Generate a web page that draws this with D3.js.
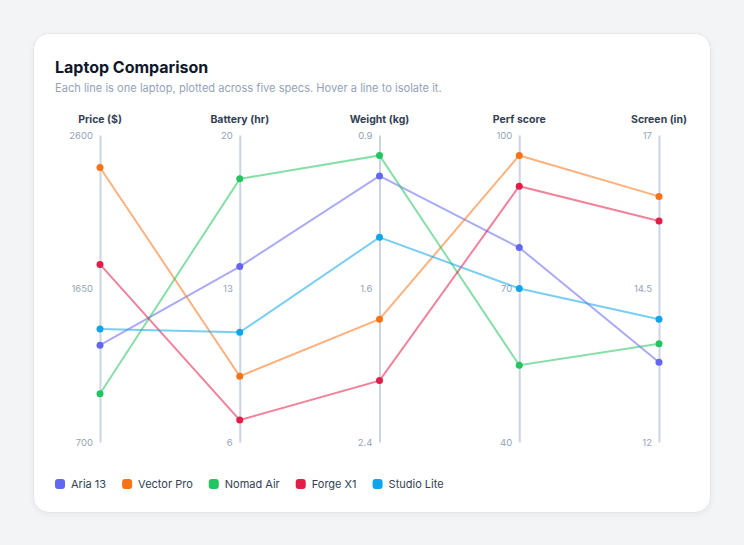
<!DOCTYPE html>
<html><head><meta charset="utf-8">
<script src="https://cdn.jsdelivr.net/npm/d3@7"></script>
<style>
html,body{margin:0;padding:0;}
body{width:744px;height:545px;background:#f3f4f6;font-family:Inter,"Noto Sans",sans-serif;position:relative;overflow:hidden;}
#card{position:absolute;left:33px;top:33px;width:676px;height:478px;background:#fff;border:1px solid #e5e7eb;border-radius:16px;box-shadow:0 2px 6px rgba(15,23,42,0.05);}
svg{position:absolute;left:0;top:0;}
</style></head>
<body>
<div id="card"></div>
<svg id="chart" width="744" height="545"></svg>
<script>
const dimensions = ["Price ($)", "Battery (hr)", "Weight (kg)", "Perf score", "Screen (in)"];
const laptops = ["Aria 13", "Vector Pro", "Nomad Air", "Forge X1", "Studio Lite"];
const colors = ["#6366f1", "#f97316", "#22c55e", "#e11d48", "#0ea5e9"];
const price   = [1299, 2399, 999, 1799, 1399];
const battery = [14, 9, 18, 7, 11];
const weight  = [1.1, 1.8, 1.0, 2.1, 1.4];
const perf    = [78, 96, 55, 90, 70];
const screen  = [13.3, 16.0, 13.6, 15.6, 14.0];
const domains = [[700, 2600], [6, 20], [2.4, 0.9], [40, 100], [12, 17]];
const tickValues = [[700, 1650, 2600], [6, 13, 20], [2.4, 1.65, 0.9], [40, 70, 100], [12, 14.5, 17]];
const tickLabels = [["700", "1650", "2600"], ["6", "13", "20"], ["2.4", "1.6", "0.9"], ["40", "70", "100"], ["12", "14.5", "17"]];

const series = [price, battery, weight, perf, screen];
const data = laptops.map((name, i) => ({name, color: colors[i], values: series.map(s => s[i])}));

const svg = d3.select("#chart");
const x = d3.scalePoint().domain(dimensions).range([100, 659]);
const ys = domains.map(d => d3.scaleLinear().domain(d).range([442, 135]));

svg.append("text").attr("x", 55).attr("y", 73).text("Laptop Comparison")
  .attr("font-size", 16).attr("font-weight", 700).attr("fill", "#0f172a");
svg.append("text").attr("x", 55).attr("y", 92).text("Each line is one laptop, plotted across five specs. Hover a line to isolate it.")
  .attr("font-size", 11.1).attr("fill", "#94a3b8");

// axes
dimensions.forEach((dim, i) => {
  const g = svg.append("g").attr("transform", `translate(${x(dim)},0)`);
  const ax = d3.axisLeft(ys[i]).tickValues(tickValues[i])
    .tickFormat((v, k) => tickLabels[i][k]).tickSize(0).tickPadding(7);
  g.call(ax);
  g.select(".domain").attr("stroke", "#cbd5e1").attr("stroke-width", 2);
  g.selectAll(".tick text").attr("fill", "#94a3b8").attr("font-size", 9.5)
    .attr("font-family", "Inter, 'Noto Sans', sans-serif");
  g.append("text").attr("x", 0).attr("y", 123).attr("text-anchor", "middle")
    .text(dim).attr("font-size", 10.5).attr("font-weight", 700).attr("fill", "#334155")
    .attr("font-family", "Inter, 'Noto Sans', sans-serif");
});

const line = d3.line().x((d, i) => x(dimensions[i])).y((d, i) => ys[i](d));
const lg = svg.append("g");
data.forEach(d => {
  lg.append("path").attr("d", line(d.values)).attr("fill", "none")
    .attr("stroke", d.color).attr("stroke-width", 2).attr("stroke-opacity", 0.55);
});
data.forEach(d => {
  lg.selectAll(null).data(d.values).join("circle")
    .attr("cx", (v, i) => x(dimensions[i])).attr("cy", (v, i) => ys[i](v))
    .attr("r", 3.5).attr("fill", d.color);
});

// legend
const leg = svg.append("g").attr("transform", "translate(55,484)");
let lx = 0;
data.forEach(d => {
  const it = leg.append("g").attr("transform", `translate(${lx},0)`);
  it.append("rect").attr("x", 0).attr("y", -5).attr("width", 10).attr("height", 10)
    .attr("rx", 3).attr("fill", d.color);
  const t = it.append("text").attr("x", 16).attr("y", 4.2).text(d.name)
    .attr("font-size", 11).attr("fill", "#334155");
  lx += 16 + t.node().getComputedTextLength() + 16;
});
</script>
</body></html>
